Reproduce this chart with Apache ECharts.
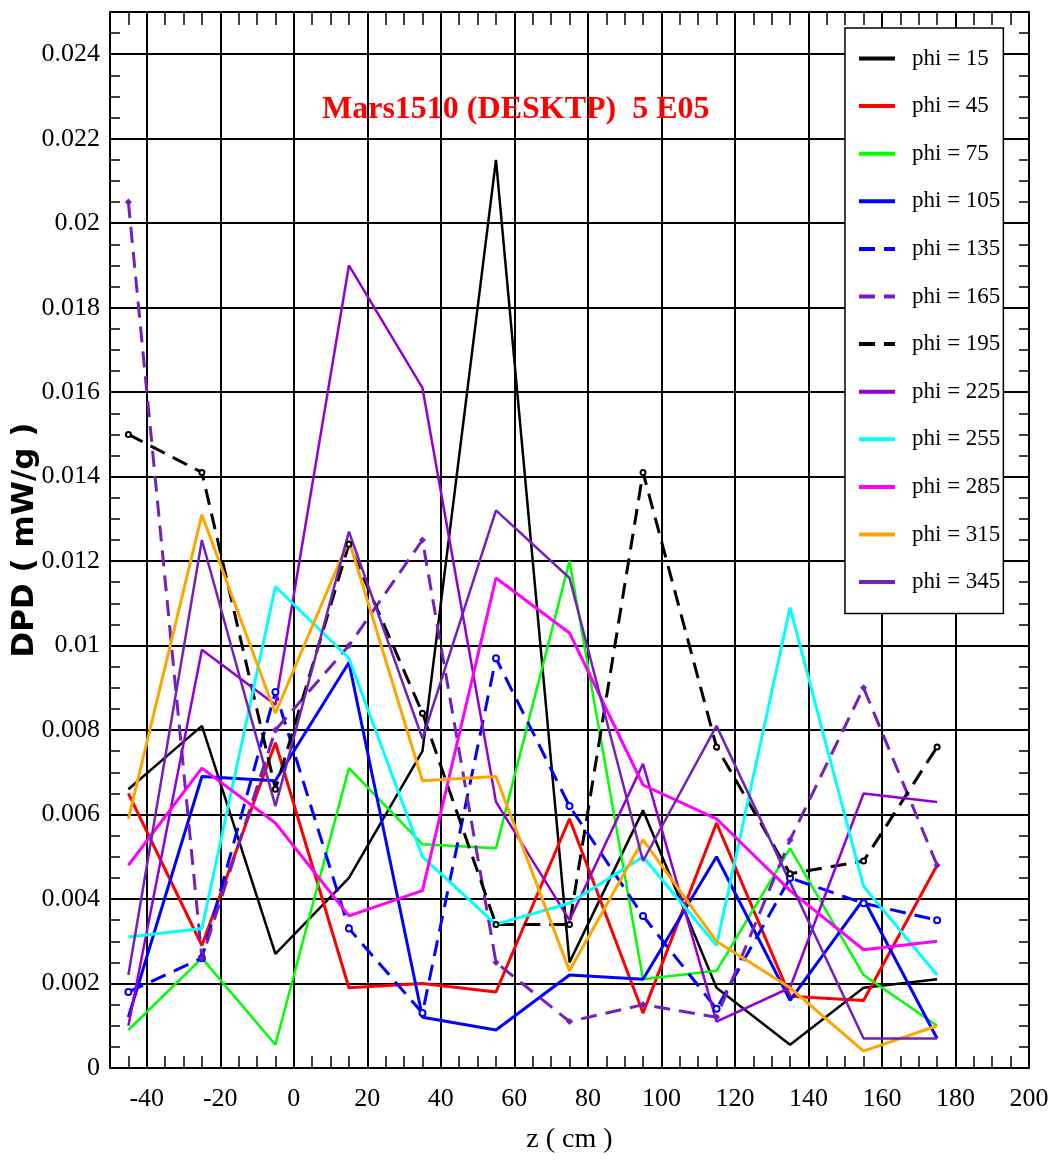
<!DOCTYPE html>
<html><head><meta charset="utf-8">
<script src="https://cdn.jsdelivr.net/npm/echarts@6/dist/echarts.min.js"></script>
<style>html,body{margin:0;padding:0;background:#fff}#c{width:1051px;height:1165px}</style>
</head><body><div id="c"></div>
<script>
// ---- data ----
const zValues = [-45, -25, -5, 15, 35, 55, 75, 95, 115, 135, 155, 175];
const phi15  = [0.0066, 0.0081, 0.0027, 0.0045, 0.0075, 0.0215, 0.0025, 0.0061, 0.0019, 0.00055, 0.0019, 0.0021];
const phi45  = [0.0065, 0.0029, 0.0077, 0.0019, 0.0020, 0.0018, 0.0059, 0.0013, 0.0058, 0.0017, 0.0016, 0.0048];
const phi75  = [0.0009, 0.0026, 0.00055, 0.0071, 0.0053, 0.0052, 0.0120, 0.0021, 0.0023, 0.0052, 0.0022, 0.0010];
const phi105 = [0.0012, 0.0069, 0.0068, 0.0096, 0.0012, 0.0009, 0.0022, 0.0021, 0.0050, 0.0016, 0.0040, 0.0007];
const phi135 = [0.0018, 0.0026, 0.0089, 0.0033, 0.0013, 0.0097, 0.0062, 0.0036, 0.0014, 0.0045, 0.0039, 0.0035];
const phi165 = [0.0205, 0.0026, 0.0080, 0.0100, 0.0125, 0.0025, 0.0011, 0.0015, 0.0012, 0.0054, 0.0090, 0.0048];
const phi195 = [0.0150, 0.0141, 0.0066, 0.0124, 0.0084, 0.0034, 0.0034, 0.0141, 0.0076, 0.0046, 0.0049, 0.0076];
const phi225 = [0.0010, 0.0099, 0.0086, 0.0190, 0.0161, 0.0063, 0.0035, 0.0072, 0.0011, 0.0019, 0.0065, 0.0063];
const phi255 = [0.0031, 0.0033, 0.0114, 0.0097, 0.0050, 0.0034, 0.0039, 0.0050, 0.0029, 0.0109, 0.0043, 0.0022];
const phi285 = [0.0048, 0.0071, 0.0058, 0.0036, 0.0042, 0.0116, 0.0103, 0.0067, 0.0059, 0.0042, 0.0028, 0.0030];
const phi315 = [0.0059, 0.0131, 0.0084, 0.0125, 0.0068, 0.0069, 0.0023, 0.0054, 0.0030, 0.0019, 0.0004, 0.0010];
const phi345 = [0.0022, 0.0125, 0.0062, 0.0127, 0.0078, 0.0132, 0.0116, 0.0049, 0.0081, 0.0044, 0.0007, 0.0007];

const seriesNames = ['phi = 15', 'phi = 45', 'phi = 75', 'phi = 105', 'phi = 135', 'phi = 165',
                     'phi = 195', 'phi = 225', 'phi = 255', 'phi = 285', 'phi = 315', 'phi = 345'];
const seriesValues = [phi15, phi45, phi75, phi105, phi135, phi165, phi195, phi225, phi255, phi285, phi315, phi345];

const titleText = 'Mars1510 (DESKTP)  5 E05';
const xName = 'z ( cm )';
const yName = 'DPD ( mW/g )';

// ---- styles ----
const seriesColors = ['#000000', '#ff0000', '#00ff00', '#0000ff', '#0000ff', '#7221bc',
                      '#000000', '#9400d3', '#00ffff', '#ff00ff', '#ffa500', '#7221bc'];
const seriesWidths = [2.5, 3, 2.5, 3, 3, 3, 3, 2.5, 3, 3, 3, 2.5];
const seriesDash   = [null, null, null, null, [16, 9], [16, 9], [16, 9], null, null, null, null, null];
const seriesSymbol = ['none', 'none', 'none', 'none', 'emptyCircle', 'diamond', 'emptyCircle', 'none', 'none', 'none', 'none', 'none'];
const seriesSymSize = [0, 0, 0, 0, 6, 5, 5, 0, 0, 0, 0, 0];

const serif = 'Liberation Serif';

const series = seriesNames.map((name, i) => ({
  name: name,
  type: 'line',
  data: zValues.map((z, k) => [z, seriesValues[i][k]]),
  symbol: seriesSymbol[i],
  symbolSize: seriesSymSize[i],
  showSymbol: seriesSymbol[i] !== 'none',
  lineStyle: { color: seriesColors[i], width: seriesWidths[i], type: seriesDash[i] || 'solid' },
  itemStyle: { color: seriesColors[i], borderColor: seriesColors[i], borderWidth: 1.5 },
  emphasis: { disabled: true },
  animation: false
}));

const tickStyle = { color: '#000', width: 1.5 };
const frameLine = { show: true, onZero: false, lineStyle: { color: '#000', width: 2 } };

const option = {
  animation: false,
  backgroundColor: '#fff',
  title: {
    text: titleText, left: 322, top: 94, padding: 0,
    textStyle: { color: '#ff0000', fontFamily: serif, fontWeight: 'bold', fontSize: 32 }
  },
  grid: { left: 110, right: 22, top: 12, bottom: 97, containLabel: false, outerBoundsMode: 'none' },
  legend: {
    orient: 'vertical', left: 845, top: 28,
    padding: [19, 3, 20, 12],
    itemWidth: 36, itemHeight: 24, itemGap: 24.6, itemTextGap: 19,
    borderColor: '#000', borderWidth: 1.5, borderRadius: 0, backgroundColor: '#fff',
    textStyle: { fontFamily: serif, fontSize: 23, color: '#000', padding: [0, 0, 0, 12] },
    lineStyle: { width: 4 },
    itemStyle: { opacity: 0 },
    data: seriesNames,
    selectedMode: false
  },
  xAxis: [
    {
      type: 'value', position: 'bottom', min: -50, max: 200, interval: 10,
      axisLine: frameLine,
      axisTick: { show: true, inside: true, length: 12, lineStyle: tickStyle },
      minorTick: { show: true, splitNumber: 2, length: 12, lineStyle: tickStyle },
      axisLabel: {
        formatter: v => (v % 20 === 0 && v > -50) ? String(v) : '',
        showMinLabel: true, showMaxLabel: true,
        fontFamily: serif, fontSize: 26, color: '#000', margin: 18
      },
      splitLine: { show: true, lineStyle: { color: ['rgba(0,0,0,0)', '#000'], width: 2 } },
      name: xName, nameLocation: 'middle', nameGap: 58, nameMoveOverlap: false,
      nameTextStyle: { fontFamily: serif, fontSize: 28, color: '#000' }
    },
    {
      type: 'value', position: 'top', min: -50, max: 200, interval: 10,
      axisLine: frameLine,
      axisTick: { show: true, inside: true, length: 13, lineStyle: tickStyle },
      minorTick: { show: true, splitNumber: 2, length: 13, lineStyle: tickStyle },
      axisLabel: { show: false },
      splitLine: { show: false }
    }
  ],
  yAxis: [
    {
      type: 'value', position: 'left', min: 0, max: 0.025, interval: 0.002,
      axisLine: frameLine,
      axisTick: { show: true, inside: true, length: 10, lineStyle: tickStyle },
      minorTick: { show: true, splitNumber: 4, length: 10, lineStyle: tickStyle },
      axisLabel: { showMaxLabel: false, fontFamily: serif, fontSize: 26, color: '#000', margin: 10 },
      splitLine: { show: true, lineStyle: { color: '#000', width: 2 } },
      name: yName, nameLocation: 'middle', nameGap: 70, nameRotate: 90, nameMoveOverlap: false,
      nameTextStyle: { fontFamily: 'DejaVu Sans', fontWeight: 'bold', fontSize: 31, color: '#000' }
    },
    {
      type: 'value', position: 'right', min: 0, max: 0.025, interval: 0.002,
      axisLine: frameLine,
      axisTick: { show: true, inside: true, length: 10, lineStyle: tickStyle },
      minorTick: { show: true, splitNumber: 4, length: 10, lineStyle: tickStyle },
      axisLabel: { show: false },
      splitLine: { show: false }
    }
  ],
  series: series
};

const chart = echarts.init(document.getElementById('c'), null, { renderer: 'canvas' });
chart.setOption(option);
</script>
</body></html>
